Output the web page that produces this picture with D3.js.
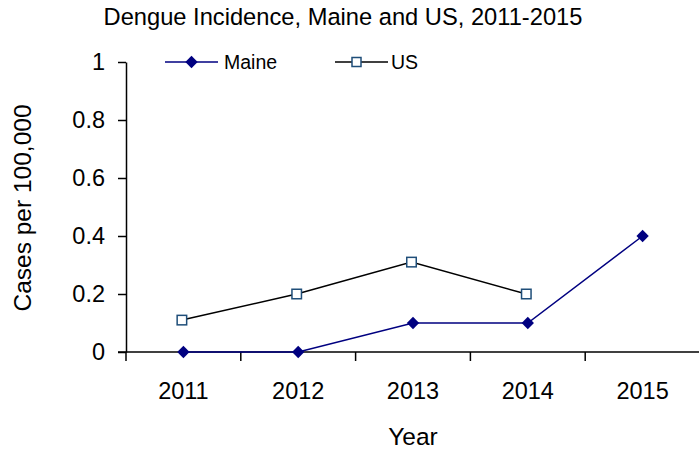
<!DOCTYPE html>
<html>
<head>
<meta charset="utf-8">
<script src="https://cdn.jsdelivr.net/npm/d3@7"></script>
<style>
  body { margin: 0; background: #fff; }
  svg { display: block; font-family: 'Liberation Sans', Arial, sans-serif; }
</style>
</head>
<body>
<div id="chart"></div>
<script>
const years = ['2011', '2012', '2013', '2014', '2015'];
const maine = [0, 0, 0.1, 0.1, 0.4];
const us = [0.11, 0.2, 0.31, 0.2, null];
const yTicks = [0, 0.2, 0.4, 0.6, 0.8, 1];

const width = 699;
const height = 451;
const margin = { top: 62, right: 0, bottom: 99, left: 126 };

const svg = d3
  .select('#chart')
  .append('svg')
  .attr('width', width)
  .attr('height', height);

const x = d3
  .scaleBand()
  .domain(years)
  .range([margin.left, 700]);

const y = d3
  .scaleLinear()
  .domain([0, 1])
  .range([height - margin.bottom, margin.top]);

// title
svg
  .append('text')
  .attr('x', 343)
  .attr('y', 25)
  .attr('text-anchor', 'middle')
  .style('font-size', '23.7px')
  .text('Dengue Incidence, Maine and US, 2011-2015');

// y axis
const yAxis = svg
  .append('g')
  .attr('transform', 'translate(' + margin.left + ',0)')
  .call(
    d3
      .axisLeft(y)
      .tickValues(yTicks)
      .tickFormat(d => (d === 0 || d === 1 ? d : d3.format('.1f')(d)))
      .tickSizeInner(8)
      .tickSizeOuter(0)
      .tickPadding(13)
  );
yAxis.selectAll('text').style('font-size', '23.5px').attr('fill', '#000');

// x axis
const xAxis = svg
  .append('g')
  .attr('transform', 'translate(0,' + y(0) + ')')
  .call(d3.axisBottom(x).tickSize(0).tickPadding(30));
xAxis.selectAll('text').style('font-size', '23.5px').attr('fill', '#000');
xAxis.select('.domain').attr('d', 'M' + (margin.left - 8) + ',0H699');

// category boundary ticks
xAxis
  .selectAll('.bound')
  .data(years)
  .enter()
  .append('line')
  .attr('class', 'bound')
  .attr('x1', d => x(d))
  .attr('x2', d => x(d))
  .attr('y1', 0)
  .attr('y2', 9)
  .attr('stroke', '#000')
  .attr('stroke-width', 1.5);

svg.selectAll('.domain').attr('stroke', '#000').attr('stroke-width', 1.5);
svg.selectAll('.tick line').attr('stroke', '#000').attr('stroke-width', 1.5);

// axis titles
svg
  .append('text')
  .attr('x', 413)
  .attr('y', 445)
  .attr('text-anchor', 'middle')
  .style('font-size', '24.5px')
  .text('Year');

svg
  .append('text')
  .attr('transform', 'translate(31,208) rotate(-90)')
  .attr('text-anchor', 'middle')
  .style('font-size', '24.5px')
  .text('Cases per 100,000');

const cx = i => x(years[i]) + x.bandwidth() / 2;

// US series
const usLine = d3
  .line()
  .defined(d => d !== null)
  .x((d, i) => cx(i) - 1.5)
  .y(d => y(d));

svg
  .append('path')
  .datum(us)
  .attr('d', usLine)
  .attr('fill', 'none')
  .attr('stroke', '#000')
  .attr('stroke-width', 1.5);

// Maine series
const maineLine = d3
  .line()
  .x((d, i) => cx(i))
  .y(d => y(d));

svg
  .append('path')
  .datum(maine)
  .attr('d', maineLine)
  .attr('fill', 'none')
  .attr('stroke', '#000080')
  .attr('stroke-width', 1.5);

const diamond = d3.symbol().type(d3.symbolSquare).size(76);

svg
  .selectAll('.us-pt')
  .data(us.map((v, i) => ({ v, i })).filter(d => d.v !== null))
  .enter()
  .append('rect')
  .attr('class', 'us-pt')
  .attr('x', d => cx(d.i) - 1.5 - 4.75)
  .attr('y', d => y(d.v) - 4.75)
  .attr('width', 9.5)
  .attr('height', 9.5)
  .attr('fill', '#fff')
  .attr('stroke', '#1f4e79')
  .attr('stroke-width', 1.5);

svg
  .selectAll('.maine-pt')
  .data(maine)
  .enter()
  .append('path')
  .attr('class', 'maine-pt')
  .attr('d', diamond)
  .attr('transform', (d, i) => 'translate(' + cx(i) + ',' + y(d) + ') rotate(45)')
  .attr('fill', '#000080');

// legend
const legend = svg.append('g').attr('transform', 'translate(0,62)');

legend
  .append('line')
  .attr('x1', 165)
  .attr('x2', 218)
  .attr('stroke', '#000080')
  .attr('stroke-width', 1.5);
legend
  .append('path')
  .attr('d', diamond)
  .attr('transform', 'translate(191.5,0) rotate(45)')
  .attr('fill', '#000080');
legend
  .append('text')
  .attr('x', 224)
  .attr('y', 7)
  .style('font-size', '19.5px')
  .text('Maine');

legend
  .append('line')
  .attr('x1', 335)
  .attr('x2', 388)
  .attr('stroke', '#000')
  .attr('stroke-width', 1.5);
legend
  .append('rect')
  .attr('x', 352)
  .attr('y', -4.5)
  .attr('width', 9)
  .attr('height', 9)
  .attr('fill', '#fff')
  .attr('stroke', '#1f4e79')
  .attr('stroke-width', 1.5);
legend
  .append('text')
  .attr('x', 391)
  .attr('y', 7)
  .style('font-size', '19.5px')
  .text('US');
</script>
</body>
</html>
